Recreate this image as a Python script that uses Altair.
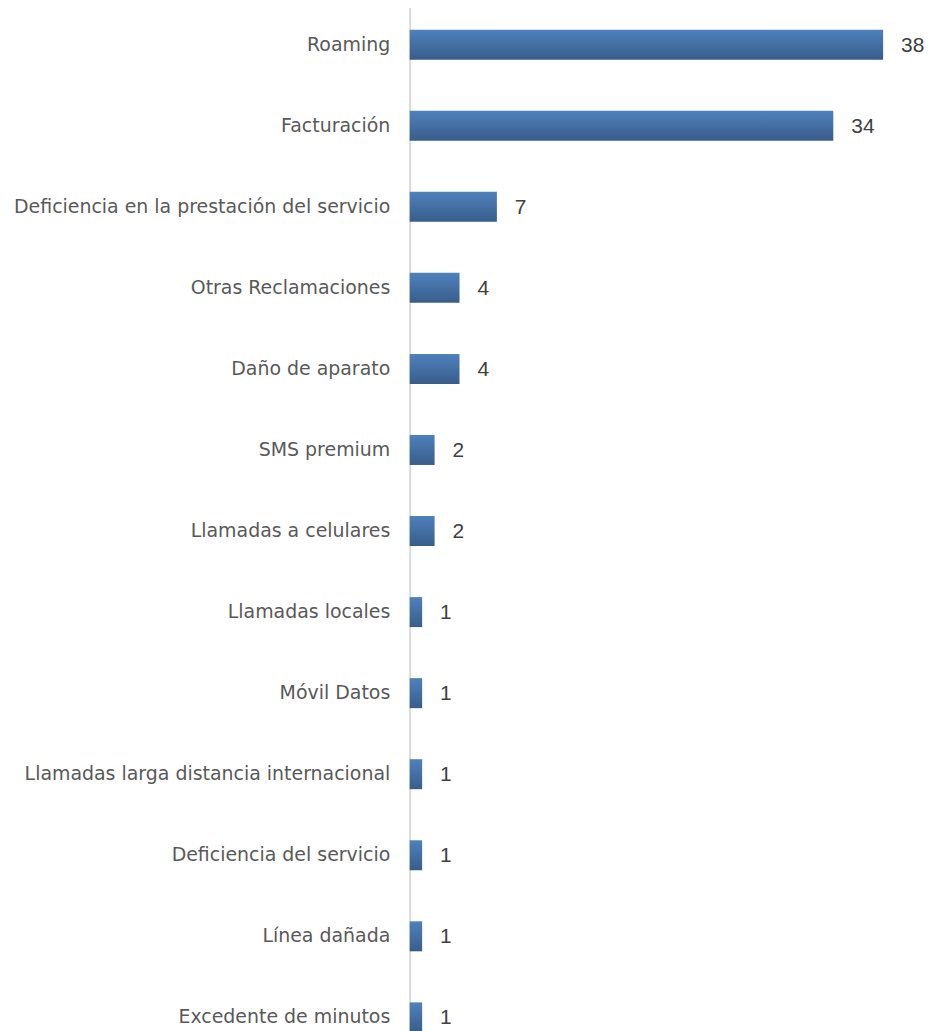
import altair as alt
import pandas as pd

categories = [
    "Roaming",
    "Facturación",
    "Deficiencia en la prestación del servicio",
    "Otras Reclamaciones",
    "Daño de aparato",
    "SMS premium",
    "Llamadas a celulares",
    "Llamadas locales",
    "Móvil Datos",
    "Llamadas larga distancia internacional",
    "Deficiencia del servicio",
    "Línea dañada",
    "Excedente de minutos",
]
values = [38, 34, 7, 4, 4, 2, 2, 1, 1, 1, 1, 1, 1]

df = pd.DataFrame({"categoria": categories, "valor": values})

grad = alt.Gradient(
    gradient="linear",
    stops=[
        alt.GradientStop(offset=0, color="#4F81BD"),
        alt.GradientStop(offset=1, color="#385D8A"),
    ],
    x1=0, x2=0, y1=0, y2=1,
)

y_enc = alt.Y(
    "categoria:N",
    sort=categories,
    title=None,
    scale=alt.Scale(paddingInner=0.63, paddingOuter=0.332, range=[-7, 1053]),
    axis=alt.Axis(
        ticks=False,
        domainColor="#D9D9D9",
        domainWidth=2,
        labelFont="DejaVu Sans",
        labelFontSize=19,
        labelColor="#595959",
        labelPadding=20,
        labelLimit=0,
        minExtent=403,
        maxExtent=403,
    ),
)
x_enc = alt.X("valor:Q", title=None, axis=None, scale=alt.Scale(domain=[0, 40]))

base = alt.Chart(df).encode(y=y_enc, x=x_enc)

bars = base.mark_bar(fill=grad)
labels = base.mark_text(
    align="left", baseline="middle", dx=18, dy=1, font="Liberation Sans",
    fontSize=21, color="#404040"
).encode(text="valor:Q")

chart = (
    alt.layer(bars, labels)
    .properties(width=500, height=1005, padding={"left": 0, "top": 0, "right": 0, "bottom": 0})
    .configure_view(stroke=None)
    .configure_axis(grid=False)
)

chart.save("out.html", embed_options={"renderer": "svg", "actions": False})
